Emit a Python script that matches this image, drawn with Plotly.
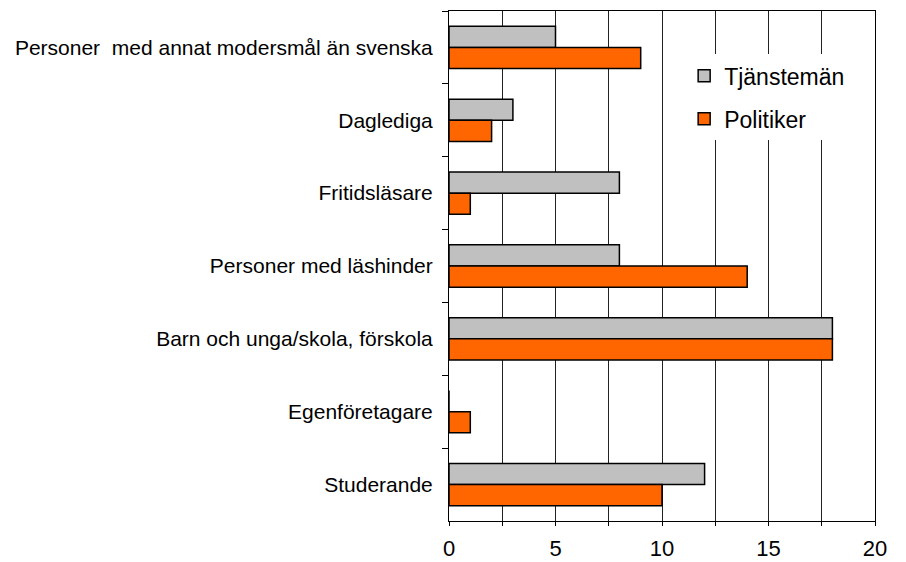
import plotly.graph_objects as go

categories = [
    "Personer  med annat modersmål än svenska",
    "Daglediga",
    "Fritidsläsare",
    "Personer med läshinder",
    "Barn och unga/skola, förskola",
    "Egenföretagare",
    "Studerande",
]
tjanstemaan = [5, 3, 8, 8, 18, 0, 12]
politiker = [9, 2, 1, 14, 18, 1, 10]
x_ticks = [0, 5, 10, 15, 20]

font_family = "Liberation Sans, Arial, sans-serif"

fig = go.Figure()
fig.add_trace(go.Bar(
    y=categories, x=tjanstemaan, orientation="h", name="Tjänstemän",
    legendgroup="a",
    marker=dict(color="#C0C0C0", line=dict(color="black", width=1.5)),
))
fig.add_trace(go.Bar(
    y=categories, x=politiker, orientation="h", name="Politiker",
    legendgroup="b",
    marker=dict(color="#FF6600", line=dict(color="black", width=1.5)),
))

fig.update_layout(
    width=890, height=554,
    margin=dict(l=441, r=23, t=3, b=41),
    paper_bgcolor="white", plot_bgcolor="white",
    barmode="group", bargap=0.42, bargroupgap=0,
    font=dict(family=font_family, color="black"),
    legend=dict(
        x=0.552, y=0.915, xanchor="left", yanchor="top",
        bgcolor="white", borderwidth=0,
        font=dict(size=23, color="black"),
        tracegroupgap=10,
    ),
    showlegend=True,
)
fig.update_xaxes(
    range=[0, 20], tickvals=x_ticks, ticktext=[str(v) for v in x_ticks],
    showgrid=True, gridcolor="#222", gridwidth=1,
    ticks="outside", ticklen=4, tickcolor="black",
    minor=dict(dtick=2.5, tick0=0, showgrid=True, gridcolor="#222", ticks="outside", ticklen=4, tickcolor="black"),
    showline=True, linecolor="black", linewidth=1, mirror=True,
    zeroline=False, tickfont=dict(size=22, color="black"),
    ticklabelstandoff=4, automargin=False,
)
fig.update_yaxes(
    autorange="reversed", categoryorder="array", categoryarray=categories,
    tickson="boundaries", ticks="outside", ticklen=6, tickcolor="black",
    showline=True, linecolor="black", linewidth=1, mirror=True,
    showgrid=False, tickfont=dict(size=21, color="black"),
    ticklabelstandoff=11, automargin=False,
)

fig.write_html("out.html")
